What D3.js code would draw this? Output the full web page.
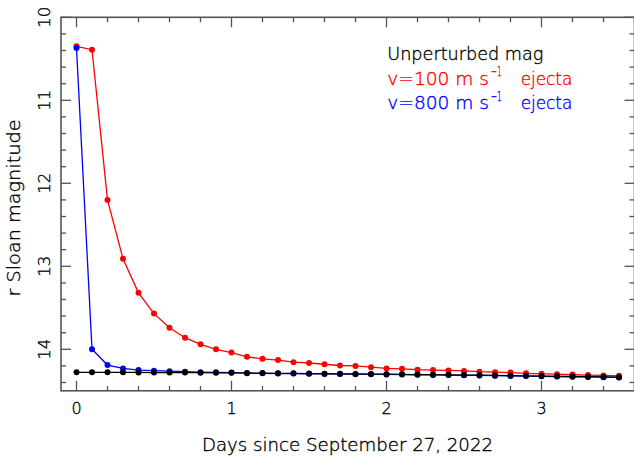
<!DOCTYPE html>
<html><head><meta charset="utf-8">
<script src="https://cdn.jsdelivr.net/npm/d3@7"></script>
<style>
html,body{margin:0;padding:0;background:#fff;}
svg{display:block;font-family:"DejaVu Sans",sans-serif;}
</style></head>
<body><svg id="c" width="634" height="458"></svg>
<script>
const days = [0,0.1,0.2,0.3,0.4,0.5,0.6,0.7,0.8,0.9,1.0,1.1,1.2,1.3,1.4,1.5,1.6,1.7,1.8,1.9,2.0,2.1,2.2,2.3,2.4,2.5,2.6,2.7,2.8,2.9,3.0,3.1,3.2,3.3,3.4,3.5];
const unperturbed = [14.277,14.277,14.278,14.278,14.279,14.28,14.28,14.281,14.282,14.283,14.284,14.285,14.287,14.289,14.29,14.292,14.294,14.295,14.297,14.299,14.30,14.302,14.304,14.306,14.308,14.31,14.312,14.315,14.318,14.32,14.322,14.325,14.328,14.33,14.333,14.336];
const v100 = [10.35,10.39,12.20,12.91,13.32,13.57,13.74,13.86,13.94,14.00,14.04,14.09,14.115,14.13,14.155,14.165,14.18,14.195,14.20,14.215,14.23,14.235,14.245,14.25,14.255,14.26,14.27,14.275,14.28,14.29,14.295,14.30,14.305,14.31,14.315,14.32];
const v800 = [10.37,14.00,14.19,14.23,14.25,14.258,14.264,14.27,14.275,14.278,14.281,14.288,14.290,14.292,14.293,14.295,14.297,14.298,14.300,14.302,14.303,14.305,14.307,14.309,14.311,14.313,14.315,14.318,14.321,14.323,14.325,14.328,14.331,14.333,14.336,14.339];
const xTicks = [0,1,2,3];
const yTicks = [10,11,12,13,14];
const xLabel = "Days since September 27, 2022";
const yLabel = "r Sloan magnitude";
const legendItems = [
  {pre:"Unperturbed mag", sup:"", post:"", color:"#000000"},
  {pre:"v=100 m s", sup:"\u22121", post:"ejecta", color:"#ff0000"},
  {pre:"v=800 m s", sup:"\u22121", post:"ejecta", color:"#0000ff"}
];

const svg = d3.select("#c");
const L = 61, R = 634.5, T = 17.3, B = 390.8;
const x = d3.scaleLinear().domain([-0.1, 3.6]).range([L, R]);
const y = d3.scaleLinear().domain([10, 14.5]).range([T, B]);
const axisColor = "#555";
const FW = 300;
const TS = 0.35; // slight stroke to thicken light glyphs

// frame
svg.append("rect").attr("x", L).attr("y", T).attr("width", R - L).attr("height", B - T)
  .attr("fill", "none").attr("stroke", axisColor).attr("stroke-width", 1.6);

// ticks
const xMinor = d3.range(0, 36).map(i => i * 0.2).filter(v => v <= 3.6);
const yMinor = d3.range(0, 23).map(i => 10 + i * 0.2).filter(v => v <= 14.5);
const tg = svg.append("g").attr("stroke", axisColor).attr("stroke-width", 1.3);
xMinor.forEach(v => {
  const major = Math.abs(v - Math.round(v)) < 1e-6;
  const len = major ? 10 : 5;
  const px = x(v);
  tg.append("line").attr("x1", px).attr("x2", px).attr("y1", B).attr("y2", B - len);
  tg.append("line").attr("x1", px).attr("x2", px).attr("y1", T).attr("y2", T + len);
});
yMinor.forEach(v => {
  const major = Math.abs(v - Math.round(v)) < 1e-6;
  const len = major ? 10 : 5;
  const py = y(v);
  tg.append("line").attr("x1", L).attr("x2", L + len).attr("y1", py).attr("y2", py);
  tg.append("line").attr("x1", R).attr("x2", R - len).attr("y1", py).attr("y2", py);
});

const txt = sel => sel.attr("font-weight", FW).attr("fill", "#000").attr("stroke", "#000").attr("stroke-width", TS);

// tick labels
svg.append("g").selectAll("text").data(xTicks).join("text")
  .attr("x", d => x(d)).attr("y", 414).attr("text-anchor", "middle")
  .attr("font-size", 16).call(txt).text(d => d);
svg.append("g").selectAll("text").data(yTicks).join("text")
  .attr("transform", d => `translate(50,${y(d)}) rotate(-90)`)
  .attr("text-anchor", "middle").attr("font-size", 16.5).call(txt).text(d => d);

// axis titles
svg.append("text").attr("x", 347.5).attr("y", 451).attr("text-anchor", "middle")
  .attr("font-size", 17).call(txt)
  .attr("textLength", 291).attr("lengthAdjust", "spacingAndGlyphs").text(xLabel);
svg.append("text").attr("transform", "translate(20,208) rotate(-90)").attr("text-anchor", "middle")
  .attr("font-size", 17).call(txt)
  .attr("textLength", 177).attr("lengthAdjust", "spacingAndGlyphs").text(yLabel);

// series
const series = [
  {vals: v100, color: "#ff0000"},
  {vals: v800, color: "#0000ff"},
  {vals: unperturbed, color: "#000000"}
];
const line = d3.line().x(d => x(d[0])).y(d => y(d[1]));
series.forEach(s => {
  const pts = days.map((d, i) => [d, s.vals[i]]);
  svg.append("path").datum(pts).attr("d", line).attr("fill", "none")
    .attr("stroke", s.color).attr("stroke-width", 1.3);
  svg.append("g").selectAll("circle").data(pts).join("circle")
    .attr("cx", d => x(d[0])).attr("cy", d => y(d[1])).attr("r", 3).attr("fill", s.color);
});

// legend
const lg = svg.append("g").attr("font-size", 17.5).attr("font-weight", FW).attr("stroke-width", TS);
legendItems.forEach((it, i) => {
  const by = 60 + i * 24.6;
  const add = (tx, xx, yy, len, fs) => {
    const t = lg.append("text").attr("x", xx).attr("y", yy).attr("fill", it.color).attr("stroke", it.color)
      .attr("textLength", len).attr("lengthAdjust", "spacingAndGlyphs").text(tx);
    if (fs) t.attr("font-size", fs);
  };
  if (!it.sup) {
    add(it.pre, 387.3, by, 156);
  } else {
    add(it.pre, 387.3, by, 101.7);
    add(it.sup, 490.7, by - 8.3, 11, 13.5);
    add(it.post, 520.7, by, 51.6);
  }
});
</script>
</body></html>
